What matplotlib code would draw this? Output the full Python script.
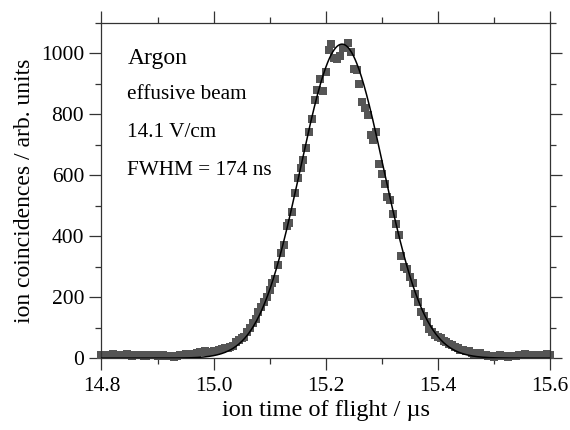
import numpy as np
import matplotlib
matplotlib.use("Agg")
import matplotlib.pyplot as plt
from matplotlib.ticker import MultipleLocator

# ---------------------------------------------------------------------------
# Data: ion time-of-flight spectrum, 5 ns bins from 14.8 to 15.6 us
# ---------------------------------------------------------------------------
T_START = 14.8
T_STEP = 0.005
counts = [
    10, 12, 9, 11, 14, 12, 10, 9, 11, 13,
    10, 8, 9, 12, 10, 8, 7, 9, 11, 9,
    8, 10, 9, 7, 8, 6, 5, 7, 9, 12,
    15, 11, 9, 13, 17, 19, 21, 22, 20, 21,
    22, 24, 26, 30, 32, 34, 37, 40, 52, 60,
    65, 70, 86, 100, 114, 130, 150, 168, 185, 201,
    223, 245, 261, 305, 344, 372, 432, 443, 481, 541,
    590, 625, 649, 688, 742, 783, 848, 881, 917, 876,
    939, 1010, 1032, 985, 982, 990, 1016, 1018, 1033, 1004,
    950, 944, 900, 840, 819, 797, 731, 715, 742, 638,
    605, 570, 530, 519, 474, 440, 405, 335, 300, 294,
    267, 245, 212, 185, 152, 140, 119, 96, 86, 75,
    70, 65, 58, 53, 46, 43, 36, 32, 28, 26,
    24, 22, 17, 15, 14, 16, 12, 10, 8, 6,
    5, 8, 10, 7, 6, 4, 6, 8, 7, 9,
    12, 14, 12, 10, 9, 11, 10, 9, 11, 13,
    12,
]
tof = T_START + T_STEP * np.arange(len(counts))

# Gaussian fit parameters (FWHM = 174 ns)
fit_amp = 1030.0
fit_center = 15.229
fit_fwhm = 0.174

labels = ["Argon", "effusive beam", "14.1 V/cm", "FWHM = 174 ns"]

# ---------------------------------------------------------------------------
# Plot
# ---------------------------------------------------------------------------
plt.rcParams["font.family"] = ["Liberation Serif", "DejaVu Serif"]

fig = plt.figure(figsize=(5.7, 4.3), dpi=100)
ax = fig.add_axes([0.178, 0.167, 0.787, 0.78])

sigma = fit_fwhm / (2 * np.sqrt(2 * np.log(2)))
xfit = np.linspace(14.8, 15.6, 800)
yfit = fit_amp * np.exp(-(xfit - fit_center) ** 2 / (2 * sigma ** 2))

ax.plot(tof, counts, "s", color="#555555", markersize=5.2, markeredgewidth=0,
        clip_on=False, zorder=2)
ax.plot(xfit, yfit, color="black", linewidth=1.1, zorder=3)

ax.set_xlim(14.8, 15.6)
ax.set_ylim(0, 1100)
ax.xaxis.set_major_locator(MultipleLocator(0.2))
ax.xaxis.set_minor_locator(MultipleLocator(0.1))
ax.yaxis.set_major_locator(MultipleLocator(200))
ax.yaxis.set_minor_locator(MultipleLocator(100))
ax.xaxis.set_major_formatter(plt.FuncFormatter(lambda v, _p: f"{v:.1f}"))

ax.tick_params(which="both", direction="out", top=True, right=True,
               width=0.9, color="#333333", labelsize=15.5)
ax.tick_params(which="major", length=8.4)
ax.tick_params(axis="x", which="major", pad=5)
ax.tick_params(axis="y", which="major", pad=4)
ax.tick_params(which="minor", length=4.5)
for sp in ax.spines.values():
    sp.set_linewidth(0.9)
    sp.set_color("#333333")

ax.set_xlabel("ion time of flight / µs", fontsize=17.5, labelpad=3)
ax.set_ylabel("ion coincidences / arb. units", fontsize=17, labelpad=4)

ax.text(0.058, 0.895, labels[0], transform=ax.transAxes, fontsize=17, va="center")
ax.text(0.058, 0.785, labels[1], transform=ax.transAxes, fontsize=15.3, va="center")
ax.text(0.058, 0.672, labels[2], transform=ax.transAxes, fontsize=15.3, va="center")
ax.text(0.058, 0.561, labels[3], transform=ax.transAxes, fontsize=15.3, va="center")

fig.savefig("out.png", dpi=100)
